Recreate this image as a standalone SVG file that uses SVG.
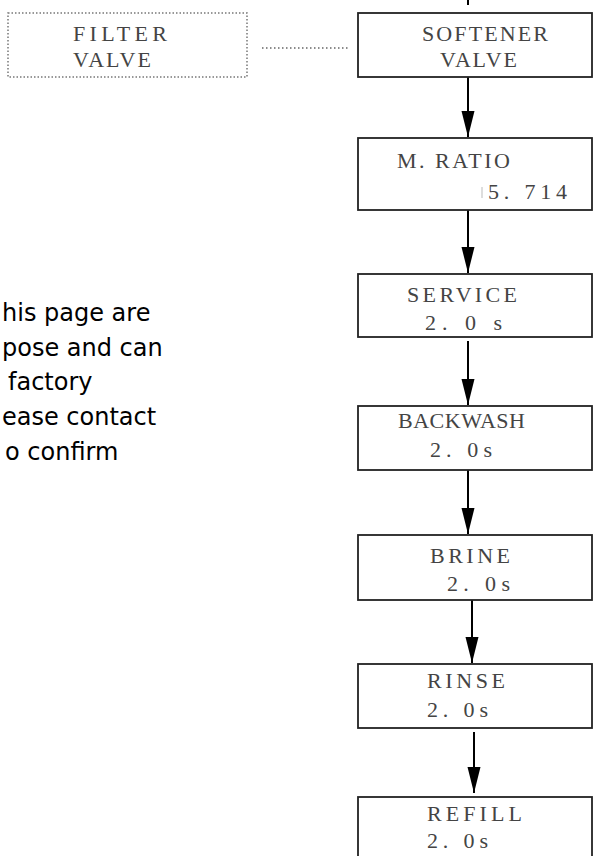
<svg xmlns="http://www.w3.org/2000/svg" width="594" height="856" viewBox="0 0 594 856">
<style>
.box{fill:#fff;stroke:#222;stroke-width:1.8}
.fbox{fill:none;stroke:#777;stroke-width:1.5;stroke-dasharray:1.5 2}
.lbl{font-family:"Liberation Serif",serif;font-size:22px;fill:#444}
.note{font-family:"DejaVu Sans",sans-serif;font-size:24px;fill:#000}
.conn{stroke:#000;stroke-width:2;fill:none}
</style>
<defs>
<marker id="ah" markerUnits="userSpaceOnUse" markerWidth="26" markerHeight="14" refX="26" refY="7" orient="auto">
<path d="M0,0.5 L26,7 L0,13.5 z" fill="#000"/>
</marker>
</defs>
<rect width="594" height="856" fill="#fff"/>
<g id="note">
<text class="note" x="2" y="321">his page are</text>
<text class="note" x="2" y="356">pose and can</text>
<text class="note" x="8" y="390">factory</text>
<text class="note" x="2" y="425">ease contact</text>
<text class="note" x="5" y="460">o confirm</text>
</g>
<g id="connectors">
<line class="conn" x1="468" y1="0" x2="468" y2="5" stroke-width="1.5"/>
<line x1="262" y1="48" x2="348" y2="48" stroke="#666" stroke-width="1.5" stroke-dasharray="1.5 2.5"/>
<line class="conn" x1="468" y1="77" x2="468" y2="137" marker-end="url(#ah)"/>
<line class="conn" x1="468" y1="210" x2="468" y2="273" marker-end="url(#ah)"/>
<line class="conn" x1="468" y1="341" x2="468" y2="405" marker-end="url(#ah)"/>
<line class="conn" x1="468" y1="470" x2="468" y2="534" marker-end="url(#ah)"/>
<line class="conn" x1="472" y1="600" x2="472" y2="663" marker-end="url(#ah)"/>
<line class="conn" x1="474" y1="732" x2="474" y2="793" marker-end="url(#ah)"/>
</g>
<g id="filter">
<rect class="fbox" x="8" y="13" width="239" height="64"/>
<text class="lbl" x="73" y="41" textLength="94" lengthAdjust="spacing">FILTER</text>
<text class="lbl" x="73" y="67" textLength="78" lengthAdjust="spacing">VALVE</text>
</g>
<g id="softener">
<rect class="box" x="358" y="13" width="234" height="64"/>
<text class="lbl" x="422" y="41" textLength="126" lengthAdjust="spacing">SOFTENER</text>
<text class="lbl" x="440" y="67" textLength="77" lengthAdjust="spacing">VALVE</text>
</g>
<g id="mratio">
<rect class="box" x="358" y="138" width="234" height="72"/>
<text class="lbl" x="397" y="168" textLength="113" lengthAdjust="spacing">M. RATIO</text>
<line x1="482" y1="187" x2="482" y2="198" stroke="#bbb" stroke-width="1"/>
<text class="lbl" x="488" y="199" textLength="79" lengthAdjust="spacing">5. 714</text>
</g>
<g id="service">
<rect class="box" x="358" y="274" width="234" height="63"/>
<text class="lbl" x="407" y="302" textLength="110" lengthAdjust="spacing">SERVICE</text>
<text class="lbl" x="425" y="330" textLength="77" lengthAdjust="spacing">2. 0  s</text>
</g>
<g id="backwash">
<rect class="box" x="358" y="406" width="234" height="64"/>
<text class="lbl" x="398" y="428" textLength="127" lengthAdjust="spacing">BACKWASH</text>
<text class="lbl" x="430" y="457" textLength="62" lengthAdjust="spacing">2. 0s</text>
</g>
<g id="brine">
<rect class="box" x="358" y="535" width="234" height="65"/>
<text class="lbl" x="430" y="563" textLength="80" lengthAdjust="spacing">BRINE</text>
<text class="lbl" x="447" y="591" textLength="63" lengthAdjust="spacing">2. 0s</text>
</g>
<g id="rinse">
<rect class="box" x="358" y="664" width="234" height="64"/>
<text class="lbl" x="427" y="688" textLength="78" lengthAdjust="spacing">RINSE</text>
<text class="lbl" x="427" y="717" textLength="61" lengthAdjust="spacing">2. 0s</text>
</g>
<g id="refill">
<rect class="box" x="358" y="797" width="234" height="70"/>
<text class="lbl" x="427" y="821" textLength="95" lengthAdjust="spacing">REFILL</text>
<text class="lbl" x="427" y="848" textLength="61" lengthAdjust="spacing">2. 0s</text>
</g>
</svg>
